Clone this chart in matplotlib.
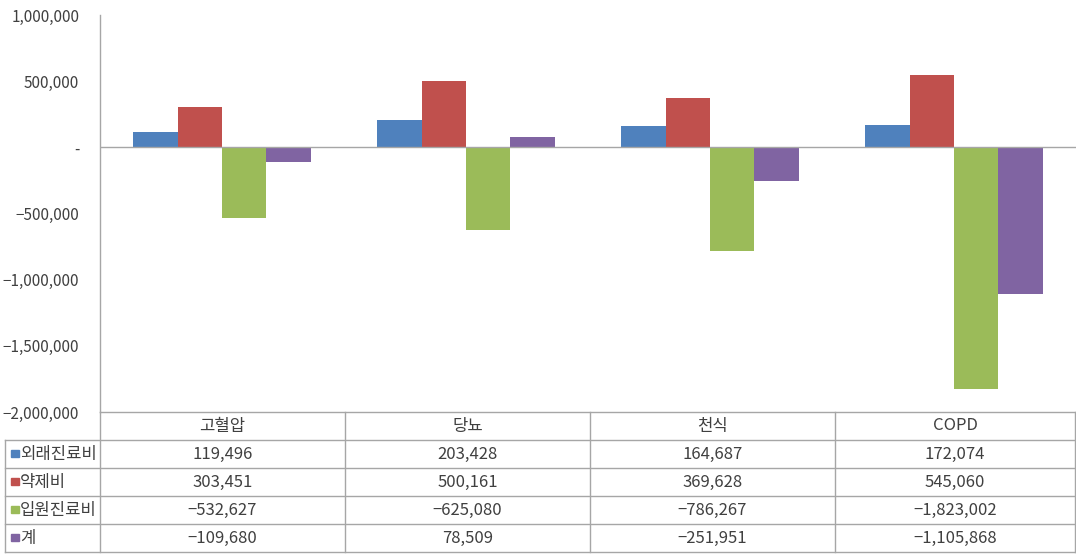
import matplotlib.pyplot as plt
from matplotlib.lines import Line2D
from matplotlib.patches import Rectangle
from matplotlib.ticker import FuncFormatter

plt.rcParams['font.family'] = ['Noto Sans CJK KR', 'DejaVu Sans']

categories = ['고혈압', '당뇨', '천식', 'COPD']
series_names = ['외래진료비', '약제비', '입원진료비', '계']
outpatient = [119496, 203428, 164687, 172074]
pharmacy = [303451, 500161, 369628, 545060]
inpatient = [-532627, -625080, -786267, -1823002]
total = [-109680, 78509, -251951, -1105868]
colors = ['#4F81BD', '#C0504D', '#9BBB59', '#8064A2']

series = [outpatient, pharmacy, inpatient, total]

W, H = 1076, 556
text_color = '#404040'
line_color = '#a6a6a6'


def fmt(v):
    if v == 0:
        return '-'
    s = f'{abs(v):,.0f}'
    return ('\u2212' + s) if v < 0 else s


fig = plt.figure(figsize=(W / 100, H / 100), dpi=100)
ax = fig.add_axes([100 / W, (H - 412) / H, 976 / W, (412 - 15) / H])

bar_w = 0.182
offsets = [-1.5, -0.5, 0.5, 1.5]
x = list(range(len(categories)))
for vals, c, off in zip(series, colors, offsets):
    ax.bar([i + off * bar_w for i in x], vals, width=bar_w, color=c)

ax.axhline(0, color=line_color, lw=1)
ax.set_xlim(-0.5, 3.5)
ax.set_ylim(-2000000, 1000000)
ax.set_yticks(range(-2000000, 1000001, 500000))
ax.yaxis.set_major_formatter(FuncFormatter(lambda v, p: fmt(v)))
ax.tick_params(axis='y', length=0, pad=15, labelsize=11, labelcolor=text_color)
ax.set_xticks([])
for side in ['top', 'right']:
    ax.spines[side].set_visible(False)
for side in ['left', 'bottom']:
    ax.spines[side].set_color(line_color)
    ax.spines[side].set_linewidth(1)


# data table under the plot, laid out in pixel positions
def fx(px):
    return px / W


def fy(py):
    return 1 - py / H


def hline(y, x0, x1):
    fig.add_artist(Line2D([fx(x0), fx(x1)], [fy(y), fy(y)], color=line_color, lw=1))


def vline(x0, y0, y1):
    fig.add_artist(Line2D([fx(x0), fx(x0)], [fy(y0), fy(y1)], color=line_color, lw=1))


col_edges = [100, 345, 590, 835, 1075]
row_top = 412
head_h = 28
row_h = 28
n_rows = len(series_names)
table_bottom = row_top + head_h + n_rows * row_h
fs = 12

for i in range(n_rows + 1):
    hline(row_top + head_h + i * row_h, 5, 1075)
for xe in col_edges:
    vline(xe, row_top, table_bottom)
vline(5, row_top + head_h, table_bottom)

for j, cat in enumerate(categories):
    cx = (col_edges[j] + col_edges[j + 1]) / 2
    fig.text(fx(cx), fy(row_top + head_h / 2), cat, ha='center', va='center',
             fontsize=fs, color=text_color)

for i, (name, vals, c) in enumerate(zip(series_names, series, colors)):
    cy = row_top + head_h + i * row_h + row_h / 2
    fig.add_artist(Rectangle((fx(11), fy(cy + 3)), 8 / W, 7 / H, color=c,
                             transform=fig.transFigure))
    fig.text(fx(20), fy(cy), name, ha='left', va='center', fontsize=fs,
             color=text_color)
    for j, v in enumerate(vals):
        cx = (col_edges[j] + col_edges[j + 1]) / 2
        fig.text(fx(cx), fy(cy), fmt(v), ha='center', va='center', fontsize=fs,
                 color=text_color)

fig.savefig('out.png', dpi=100)
